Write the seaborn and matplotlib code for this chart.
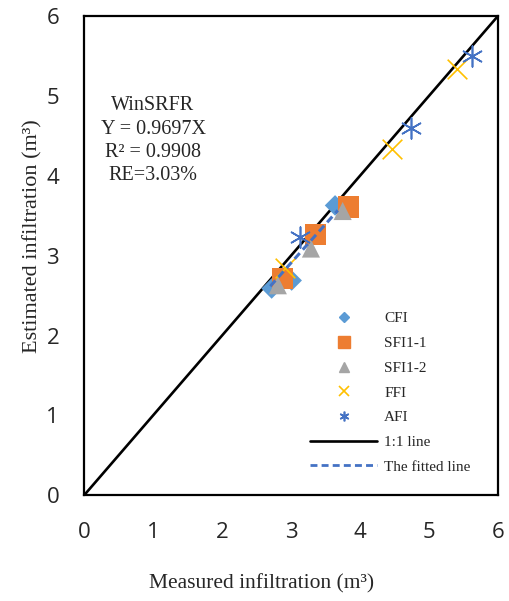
import numpy as np
import pandas as pd
import seaborn as sns
import matplotlib.pyplot as plt
from matplotlib.lines import Line2D

# measured vs estimated infiltration (m3)
cfi_x = [2.72, 3.01, 3.64]
cfi_y = [2.59, 2.69, 3.63]
sfi11_x = [2.88, 3.36, 3.83]
sfi11_y = [2.72, 3.27, 3.61]
sfi12_x = [2.81, 3.29, 3.75]
sfi12_y = [2.63, 3.09, 3.56]
ffi_x = [2.91, 4.46, 5.41]
ffi_y = [2.84, 4.34, 5.34]
afi_x = [3.13, 4.74, 5.62]
afi_y = [3.23, 4.60, 5.50]

series = ["CFI", "SFI1-1", "SFI1-2", "FFI", "AFI"]
colors = ["#5B9BD5", "#ED7D31", "#A5A5A5", "#FFC000", "#4472C4"]
slope = 0.9697
fit_range = [2.70, 3.68]
ticks = [0, 1, 2, 3, 4, 5, 6]

df = pd.concat([
    pd.DataFrame({"measured": x, "estimated": y, "method": name})
    for name, x, y in zip(series,
                          [cfi_x, sfi11_x, sfi12_x, ffi_x, afi_x],
                          [cfi_y, sfi11_y, sfi12_y, ffi_y, afi_y])
])

sns.set_style("white")
serif = ["Liberation Serif", "DejaVu Serif"]
sans = ["Open Sans", "DejaVu Sans"]

fig = plt.figure(figsize=(5.10, 6.01), dpi=100)
ax = fig.add_axes([0.165, 0.176, 0.811, 0.797])

# 1:1 line and fitted line
ax.plot([0, 6], [0, 6], color="black", lw=1.9, zorder=1)
fx = np.array(fit_range)
ax.plot(fx, slope * fx, color="#4472C4", lw=2.2, ls=(0, (2.5, 1.5)), zorder=4)

mk = {"CFI": "D", "SFI1-1": "s", "SFI1-2": "^", "FFI": "x", "AFI": (6, 2, 0)}
size = {"CFI": 110, "SFI1-1": 230, "SFI1-2": 170, "FFI": 200, "AFI": 220}
for name, c in zip(series, colors):
    sub = df[df["method"] == name]
    filled = name in ("CFI", "SFI1-1", "SFI1-2")
    sns.scatterplot(data=sub, x="measured", y="estimated", ax=ax,
                    marker=mk[name], s=size[name], color=c,
                    edgecolor=c if not filled else "none",
                    linewidth=1.2, zorder=3, legend=False)

ax.set_xlim(0, 6)
ax.set_ylim(0, 6)
ax.set_xticks(ticks)
ax.set_yticks(ticks)
ax.set_xticklabels([str(t) for t in ticks], family=sans, fontsize=16)
ax.set_yticklabels([str(t) for t in ticks], family=sans, fontsize=16)
ax.tick_params(direction="out", length=6, width=1.2, color="black")
ax.tick_params(axis="x", pad=13)
ax.tick_params(axis="y", pad=12)
for sp in ax.spines.values():
    sp.set_color("black")
    sp.set_linewidth(1.6)

ax.set_xlabel("Measured infiltration (m³)", family=serif, fontsize=15.5)
ax.set_ylabel("Estimated infiltration (m³)", family=serif, fontsize=16)
ax.xaxis.set_label_coords(0.43, -0.165)
ax.yaxis.set_label_coords(-0.10, 0.54)

ax.text(1.0, 4.44, "WinSRFR\nY = 0.9697X\nR² = 0.9908\nRE=3.03%",
        family=serif, fontsize=14.5, ha="center", va="center", linespacing=1.31)

handles = [
    Line2D([], [], ls="none", marker="D", ms=5, color=colors[0]),
    Line2D([], [], ls="none", marker="s", ms=8, color=colors[1]),
    Line2D([], [], ls="none", marker="^", ms=7, color=colors[2]),
    Line2D([], [], ls="none", marker="x", ms=7, mew=1.2, color=colors[3]),
    Line2D([], [], ls="none", marker=(6, 2, 0), ms=7, mew=1.2, color=colors[4]),
    Line2D([], [], color="black", lw=1.9),
    Line2D([], [], color="#4472C4", lw=2.0, ls=(0, (2.5, 1.5))),
]
labels = series + ["1:1 line", "The fitted line"]
ax.legend(handles, labels, loc="upper left", bbox_to_anchor=(0.546, 0.383),
          frameon=False, prop={"family": serif, "size": 11}, handlelength=4.4,
          handletextpad=0.45, labelspacing=0.72, borderpad=0, borderaxespad=0)

fig.savefig("out.png", dpi=100)
